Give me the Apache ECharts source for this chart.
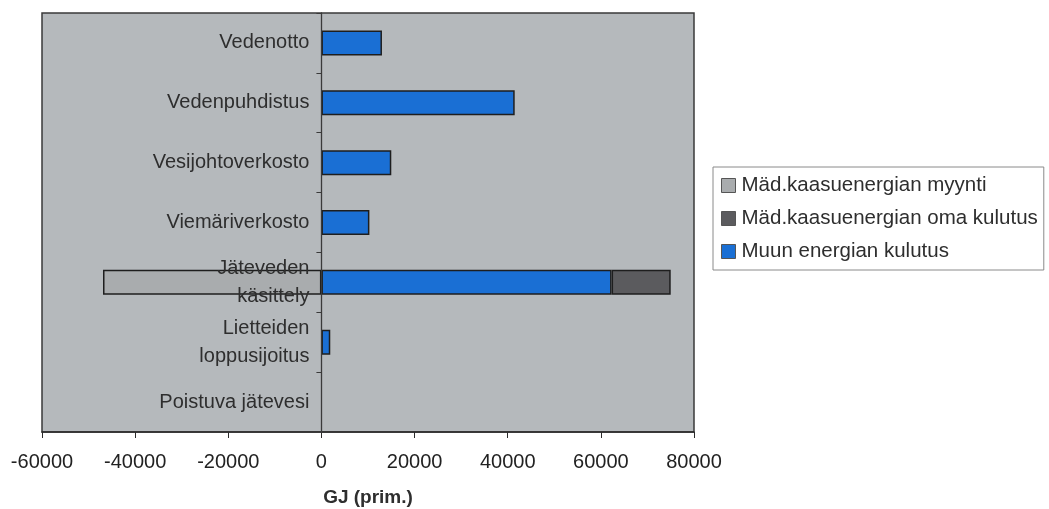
<!DOCTYPE html>
<html>
<head>
<meta charset="utf-8">
<script src="https://cdn.jsdelivr.net/npm/echarts@6/dist/echarts.min.js"></script>
<style>
  html, body { margin: 0; padding: 0; background: #ffffff; }
  #chart { width: 1049px; height: 509px; }
</style>
</head>
<body>
<div id="chart"></div>
<script>
// Energy balance by stage of the water service chain, GJ (primary energy)
const categories = [
  'Vedenotto',
  'Vedenpuhdistus',
  'Vesijohtoverkosto',
  'Viemäriverkosto',
  'Jäteveden\nkäsittely',
  'Lietteiden\nloppusijoitus',
  'Poistuva jätevesi'
];
const muunEnergianKulutus = [13000, 41500, 15000, 10300, 62300, 1900, 0];
const kaasuOmaKulutus     = [0, 0, 0, 0, 12700, 0, 0];
const kaasuMyynti         = [0, 0, 0, 0, -46900, 0, 0];
const xTicks = { min: -60000, max: 80000, interval: 20000 };

const seriesNames = {
  myynti: 'Mäd.kaasuenergian myynti',
  oma: 'Mäd.kaasuenergian oma kulutus',
  muu: 'Muun energian kulutus'
};

const font = 'Arial, "Liberation Sans", sans-serif';
const textColor = '#2e2e2e';
const barBorder = { borderColor: '#1e1e1e', borderWidth: 1.5 };

const gridBox = { left: 42, right: 355, top: 13, bottom: 77 };
const chartWidth = 1049;

// zero entries get no bar at all
const nonZero = arr => arr.map(v => (v === 0 ? '-' : v));

// the category axis sits on the x = 0 line: shift it right from the grid's left edge
const plotWidth = chartWidth - gridBox.left - gridBox.right;
const zeroShift = plotWidth * (0 - xTicks.min) / (xTicks.max - xTicks.min);

const chart = echarts.init(document.getElementById('chart'), null, { renderer: 'canvas' });
chart.setOption({
  animation: false,
  backgroundColor: '#ffffff',
  textStyle: { fontFamily: font },
  grid: Object.assign({
    containLabel: false,
    outerBoundsMode: 'none',
    show: true,
    backgroundColor: '#b5b9bc',
    borderColor: '#3a3a3a',
    borderWidth: 1.5
  }, gridBox),
  legend: {
    orient: 'vertical',
    left: 713, top: 167,
    data: [seriesNames.myynti, seriesNames.oma, seriesNames.muu],
    itemWidth: 14, itemHeight: 14, itemGap: 12,
    padding: [8, 6, 8, 8],
    borderColor: '#8a8a8a', borderWidth: 1,
    backgroundColor: '#ffffff',
    icon: 'rect',
    textStyle: { fontSize: 20.5, color: textColor, fontFamily: font, padding: [0, 0, 0, 1] },
    itemStyle: { borderColor: '#555555', borderWidth: 1 }
  },
  xAxis: {
    type: 'value',
    min: xTicks.min, max: xTicks.max, interval: xTicks.interval,
    name: 'GJ (prim.)',
    nameLocation: 'middle',
    nameGap: 56,
    nameTextStyle: { fontSize: 19, fontWeight: 'bold', color: textColor, fontFamily: font },
    axisLine: { show: true, lineStyle: { color: '#2a2a2a', width: 1.5 } },
    axisTick: { show: true, length: 6, lineStyle: { color: '#2a2a2a' } },
    axisLabel: {
      fontSize: 20, color: '#222222', margin: 20, fontFamily: font,
      formatter: v => String(v)
    },
    splitLine: { show: false }
  },
  yAxis: {
    type: 'category',
    data: categories,
    inverse: true,
    z: 5,
    offset: -zeroShift,
    axisLine: { onZero: false, lineStyle: { color: '#3a3a3a', width: 1.3 } },
    axisTick: { show: true, length: 5, lineStyle: { color: '#3a3a3a' } },
    axisLabel: {
      fontSize: 20, color: textColor, margin: 12, lineHeight: 28,
      fontFamily: font
    }
  },
  series: [
    {
      name: seriesNames.muu, type: 'bar', stack: 'total', barWidth: 25,
      data: nonZero(muunEnergianKulutus),
      itemStyle: Object.assign({ color: '#1a6fd4' }, barBorder)
    },
    {
      name: seriesNames.oma, type: 'bar', stack: 'total', barWidth: 25,
      data: nonZero(kaasuOmaKulutus),
      itemStyle: Object.assign({ color: '#5b5b5e' }, barBorder)
    },
    {
      name: seriesNames.myynti, type: 'bar', stack: 'total', barWidth: 25,
      data: nonZero(kaasuMyynti),
      itemStyle: Object.assign({ color: '#a9acae' }, barBorder)
    }
  ]
});
</script>
</body>
</html>
